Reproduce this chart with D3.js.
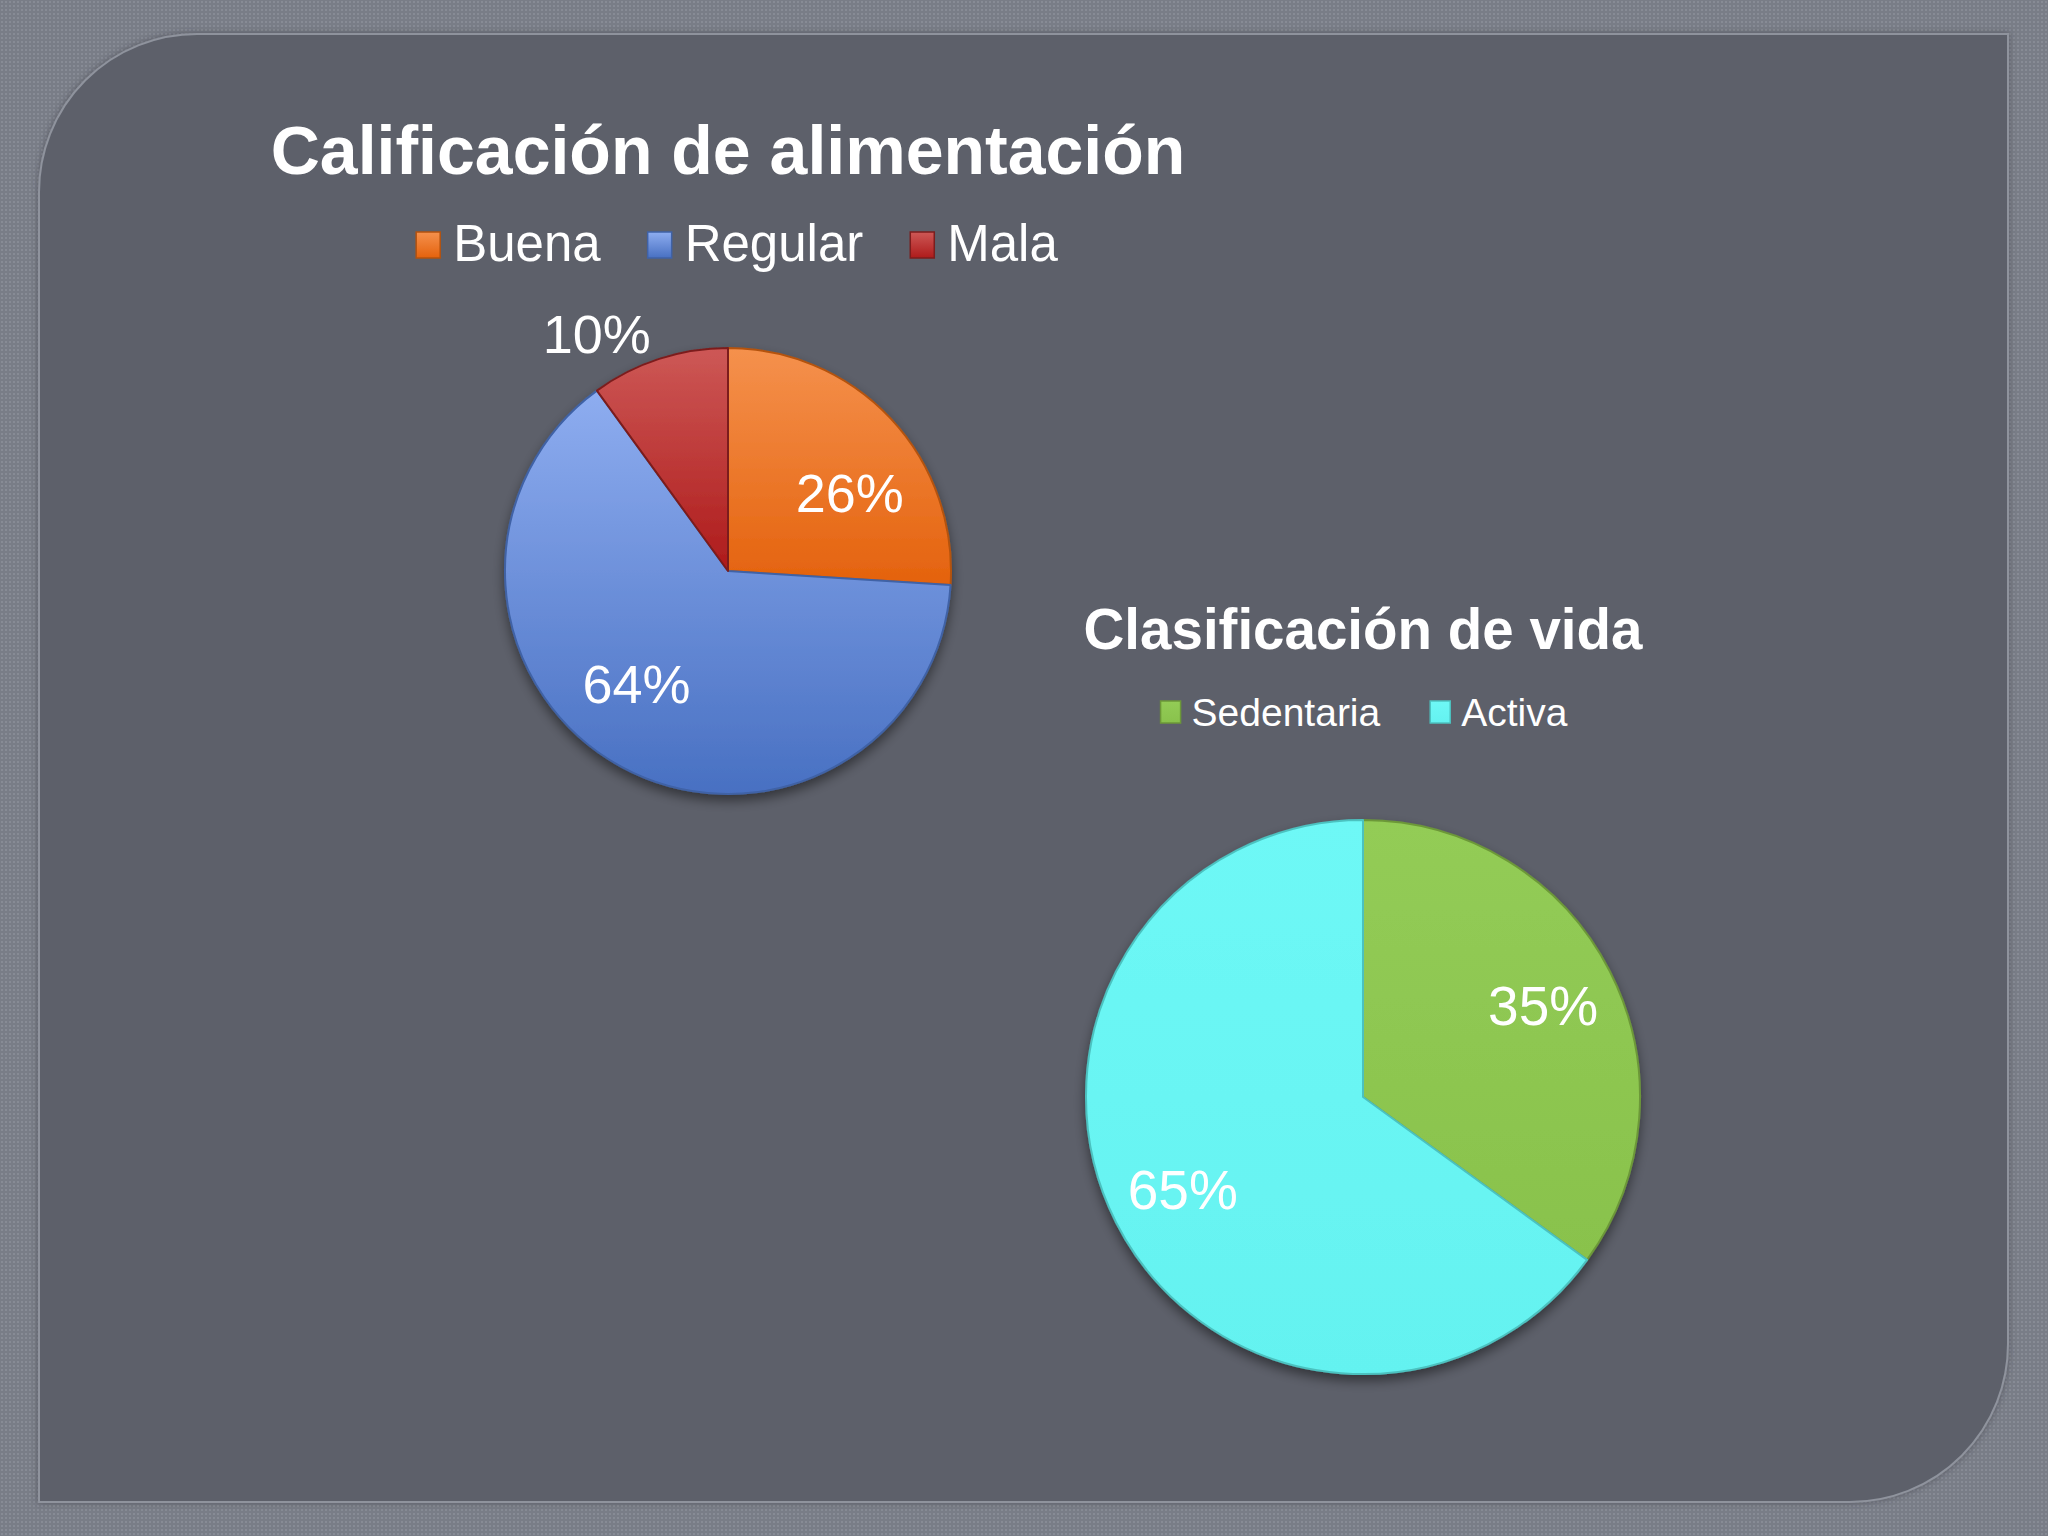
<!DOCTYPE html>
<html>
<head>
<meta charset="utf-8">
<script src="https://cdn.jsdelivr.net/npm/d3@7"></script>
<style>
body { margin: 0; background: #7b7f89; }
text { font-family: "Liberation Sans", Arial, sans-serif; fill: #ffffff; }
</style>
</head>
<body>
<svg id="slide" width="2048" height="1536"></svg>
<script>
// data
var foodTitle = "Calificación de alimentación";
var foodCategories = ["Buena", "Regular", "Mala"];
var foodValues = [26, 64, 10];

var lifeTitle = "Clasificación de vida";
var lifeCategories = ["Sedentaria", "Activa"];
var lifeValues = [35, 65];

var svg = d3.select("#slide");
var defs = svg.append("defs");

function build_background()
{
    var pat = defs.append("pattern")
        .attr("id", "weave")
        .attr("width", 4).attr("height", 4)
        .attr("patternUnits", "userSpaceOnUse");
    pat.append("rect").attr("width", 4).attr("height", 4).attr("fill", "#797d87");
    pat.append("rect").attr("x", 1).attr("y", 1).attr("width", 2).attr("height", 2).attr("fill", "#878b95");

    svg.append("rect")
        .attr("width", 2048).attr("height", 1536)
        .attr("fill", "url(#weave)");

    var x0 = 39, y0 = 34, x1 = 2008, y1 = 1502, r = 158;
    var p = d3.path();
    p.moveTo(x0, y0 + r);
    p.arcTo(x0, y0, x0 + r, y0, r);
    p.lineTo(x1, y0);
    p.lineTo(x1, y1 - r);
    p.arcTo(x1, y1, x1 - r, y1, r);
    p.lineTo(x0, y1);
    p.closePath();

    var sh = defs.append("filter").attr("id", "panelShadow")
        .attr("x", "-5%").attr("y", "-5%").attr("width", "110%").attr("height", "110%");
    sh.append("feDropShadow").attr("dx", 0).attr("dy", 0)
        .attr("stdDeviation", 3).attr("flood-color", "#3a3d44").attr("flood-opacity", 0.6);

    svg.append("path")
        .attr("d", p.toString())
        .attr("fill", "#5d616b")
        .attr("stroke", "#8f939d")
        .attr("stroke-width", 2)
        .attr("filter", "url(#panelShadow)");
}

function add_gradient(id, top, bottom)
{
    var g = defs.append("linearGradient")
        .attr("id", id)
        .attr("x1", 0).attr("y1", 0).attr("x2", 0).attr("y2", 1);
    g.append("stop").attr("offset", "0%").attr("stop-color", top);
    g.append("stop").attr("offset", "100%").attr("stop-color", bottom);
}

function build_pie(opts)
{
    var data = opts.categories.map(function(c, i) {
        return {name: c, value: opts.values[i], id: opts.key + i};
    });

    data.forEach(function(d, i) {
        add_gradient(d.id, opts.colors[i][0], opts.colors[i][1]);
    });

    // title
    svg.append("text")
        .attr("x", opts.cx)
        .attr("y", opts.titleY)
        .attr("text-anchor", "middle")
        .style("font-weight", "bold")
        .style("font-size", opts.titleSize + "px")
        .text(opts.title);

    // legend, measured then centred
    var leg = svg.append("g");
    var x = 0;
    data.forEach(function(d, i) {
        leg.append("rect")
            .attr("x", x)
            .attr("y", opts.legendY - opts.box - 3)
            .attr("width", opts.box - 2)
            .attr("height", opts.box)
            .attr("fill", "url(#" + d.id + ")")
            .attr("stroke", opts.strokes[i])
            .attr("stroke-width", 1.5);
        var t = leg.append("text")
            .attr("x", x + opts.box + opts.boxGap)
            .attr("y", opts.legendY)
            .style("font-size", opts.legendSize + "px")
            .text(d.name);
        x += opts.box + opts.boxGap + t.node().getComputedTextLength() + opts.itemGap;
    });
    x -= opts.itemGap;
    leg.attr("transform", "translate(" + (opts.cx + opts.legendShift - x / 2) + ",0)");

    // pie
    var shadow = defs.append("filter").attr("id", opts.key + "shadow")
        .attr("x", "-20%").attr("y", "-20%").attr("width", "140%").attr("height", "140%");
    shadow.append("feDropShadow").attr("dx", 0).attr("dy", 6)
        .attr("stdDeviation", 6).attr("flood-color", "#000").attr("flood-opacity", 0.45);

    var g = svg.append("g")
        .attr("transform", "translate(" + opts.cx + "," + opts.cy + ")");

    var pie = d3.pie().sort(null).value(function(d) { return d.value; });
    var arcs = pie(data);

    var path = d3.arc().innerRadius(0).outerRadius(opts.r);

    g.append("g")
        .attr("filter", "url(#" + opts.key + "shadow)")
        .selectAll("path")
        .data(arcs)
        .enter()
        .append("path")
        .attr("d", path)
        .attr("fill", function(d) { return "url(#" + d.data.id + ")"; })
        .attr("stroke", function(d, i) { return opts.strokes[i]; })
        .attr("stroke-width", 2)
        .attr("stroke-linejoin", "round");

    // percentage labels, small slices outside
    var total = d3.sum(opts.values);
    var inner = d3.arc().innerRadius(opts.r * opts.labelK).outerRadius(opts.r * opts.labelK);
    var outer = d3.arc().innerRadius(opts.r * 1.12).outerRadius(opts.r * 1.12);

    g.selectAll("text.pct")
        .data(arcs)
        .enter()
        .append("text")
        .attr("class", "pct")
        .attr("transform", function(d) {
            var small = d.data.value / total < 0.15;
            if (small) return "translate(" + outer.centroid(d) + ")";
            // excel nudges the inside labels a bit clockwise
            var turned = {startAngle: d.startAngle + opts.labelTurn, endAngle: d.endAngle + opts.labelTurn};
            return "translate(" + inner.centroid(turned) + ")";
        })
        .attr("text-anchor", function(d) {
            if (d.data.value / total >= 0.15) return "middle";
            var mid = (d.startAngle + d.endAngle) / 2;
            return mid > Math.PI ? "end" : "start";
        })
        .attr("dy", "0.36em")
        .style("font-size", opts.labelSize + "px")
        .text(function(d) { return Math.round(d.data.value / total * 100) + "%"; });
}

build_background();

build_pie({
    key: "food",
    title: foodTitle,
    categories: foodCategories,
    values: foodValues,
    colors: [["#f5914d", "#e4620d"], ["#8eadf0", "#4870c2"], ["#cd5856", "#ae1b1b"]],
    strokes: ["#b4520e", "#3f62a6", "#7c1d1d"],
    cx: 728, cy: 571, r: 223,
    titleY: 174, titleSize: 68,
    legendY: 261, legendSize: 51, box: 26, boxGap: 11, itemGap: 47, legendShift: 9,
    labelK: 0.65, labelTurn: 0.18, labelSize: 54
});

build_pie({
    key: "life",
    title: lifeTitle,
    categories: lifeCategories,
    values: lifeValues,
    colors: [["#93cc56", "#89c24c"], ["#6ef8f6", "#64f2f0"]],
    strokes: ["#6c9838", "#4cc2c0"],
    cx: 1363, cy: 1097, r: 277,
    titleY: 649, titleSize: 56.5,
    legendY: 726, legendSize: 39, box: 22, boxGap: 9, itemGap: 50, legendShift: 1,
    labelK: 0.73, labelTurn: 0, labelSize: 55
});
</script>
</body>
</html>
